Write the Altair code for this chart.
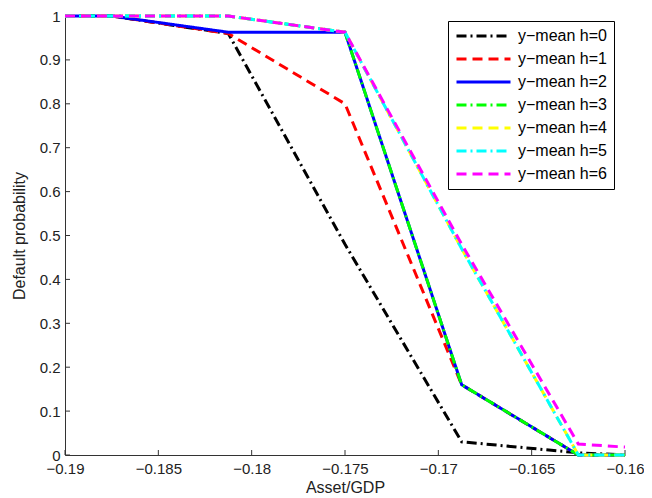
import altair as alt
import pandas as pd

x_vals = [-0.19, -0.1875, -0.18125, -0.175, -0.16875, -0.1625, -0.16]
series_names = ["y−mean h=0", "y−mean h=1", "y−mean h=2", "y−mean h=3",
                "y−mean h=4", "y−mean h=5", "y−mean h=6"]
h0 = [1.0, 1.0, 0.96, 0.48, 0.03, 0.005, 0.0]
h1 = [1.0, 1.0, 0.96, 0.80, 0.16, 0.0, 0.0]
h2 = [1.0, 1.0, 0.963, 0.963, 0.16, 0.0, 0.0]
h3 = [1.0, 1.0, 1.0, 0.963, 0.16, 0.0, 0.0]
h4 = [1.0, 1.0, 1.0, 0.963, 0.47, 0.0, 0.0]
h5 = [1.0, 1.0, 1.0, 0.963, 0.47, 0.0, 0.0]
h6 = [1.0, 1.0, 1.0, 0.963, 0.48, 0.025, 0.018]
colors = ["#000000", "#ff0000", "#0000ff", "#00ff00", "#ffff00", "#00ffff", "#ff00ff"]
dashes = [[10, 4, 2, 4], [10, 6], [1, 0], [10, 4, 2, 4], [10, 6], [10, 4, 2, 4], [10, 6]]
x_ticks = [-0.19, -0.185, -0.18, -0.175, -0.17, -0.165, -0.16]
y_ticks = [0, 0.1, 0.2, 0.3, 0.4, 0.5, 0.6, 0.7, 0.8, 0.9, 1]

rows = []
for name, vals in zip(series_names, [h0, h1, h2, h3, h4, h5, h6]):
    for xv, yv in zip(x_vals, vals):
        rows.append({"x": xv, "y": yv, "series": name})
df = pd.DataFrame(rows)

W, H = 560, 439
FONT = "Liberation Sans"
xscale = alt.Scale(domain=[-0.19, -0.16], nice=False, zero=False)
yscale = alt.Scale(domain=[0, 1], nice=False, zero=False)

xaxis = alt.Axis(title="Asset/GDP", values=x_ticks, format="~g",
                 tickSize=0, labelPadding=6, titlePadding=3, labelFlush=False)
yaxis = alt.Axis(title="Default probability", values=y_ticks, format="~g",
                 tickSize=0, labelPadding=5, titlePadding=12)

leg = alt.Legend(
    title=None, orient="none", legendX=383, legendY=5,
    symbolType="stroke", symbolSize=2916, symbolStrokeWidth=3,
    strokeColor="black", fillColor="white", padding=7,
    labelFont=FONT, labelFontSize=16, labelColor="#000000",
    labelOffset=6, rowPadding=7, clipHeight=16, cornerRadius=0,
)

lines = alt.Chart(df).mark_line(strokeWidth=3, clip=False).encode(
    x=alt.X("x:Q", scale=xscale, axis=xaxis),
    y=alt.Y("y:Q", scale=yscale, axis=yaxis),
    color=alt.Color("series:N", scale=alt.Scale(domain=series_names, range=colors), legend=leg),
    strokeDash=alt.StrokeDash("series:N", scale=alt.Scale(domain=series_names, range=dashes), legend=leg),
)

xt = pd.DataFrame({"x": x_ticks})
yt = pd.DataFrame({"y": y_ticks})
xtick_layer = alt.Chart(xt).mark_rule(color="#333333", strokeWidth=1).encode(
    x=alt.X("x:Q", scale=xscale, axis=xaxis),
    y=alt.value(H), y2=alt.value(H - 5),
)
ytick_layer = alt.Chart(yt).mark_rule(color="#333333", strokeWidth=1).encode(
    y=alt.Y("y:Q", scale=yscale, axis=yaxis),
    x=alt.value(0), x2=alt.value(5),
)

chart = alt.layer(xtick_layer, ytick_layer, lines).properties(
    width=W, height=H,
    autosize=alt.AutoSizeParams(type="none"),
    padding={"left": 57, "top": 8, "right": 19, "bottom": 41},
).configure_view(stroke=None).configure_axis(
    grid=False, domainColor="#333333", domainWidth=1,
    labelFont=FONT, labelFontSize=15, labelColor="#222222",
    titleFont=FONT, titleFontSize=16, titleFontWeight="normal", titleColor="#222222",
)

chart.save("out.html", embed_options={"renderer": "svg", "actions": False})
